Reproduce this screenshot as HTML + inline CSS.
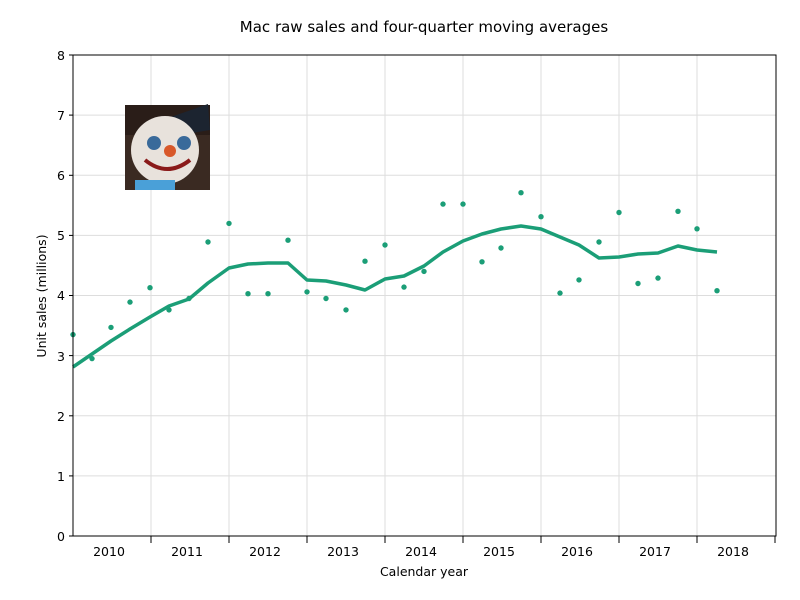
<!DOCTYPE html>
<html><head><meta charset="utf-8"><style>
html,body{margin:0;padding:0;background:#fff;}
svg{display:block;font-family:"DejaVu Sans","Liberation Sans",sans-serif;}
</style></head><body>
<svg width="800" height="600" viewBox="0 0 800 600" xmlns="http://www.w3.org/2000/svg">
<rect width="800" height="600" fill="#fff"/>
<text x="424" y="32" font-size="15" text-anchor="middle">Mac raw sales and four-quarter moving averages</text>
<g stroke="#dddddd" stroke-width="1">
<line x1="73" x2="776" y1="475.9" y2="475.9"/><line x1="73" x2="776" y1="415.8" y2="415.8"/>
<line x1="73" x2="776" y1="355.6" y2="355.6"/><line x1="73" x2="776" y1="295.5" y2="295.5"/>
<line x1="73" x2="776" y1="235.4" y2="235.4"/><line x1="73" x2="776" y1="175.3" y2="175.3"/>
<line x1="73" x2="776" y1="115.1" y2="115.1"/>
<line x1="151" x2="151" y1="55" y2="536"/><line x1="229" x2="229" y1="55" y2="536"/>
<line x1="307" x2="307" y1="55" y2="536"/><line x1="385" x2="385" y1="55" y2="536"/>
<line x1="463" x2="463" y1="55" y2="536"/><line x1="541" x2="541" y1="55" y2="536"/>
<line x1="619" x2="619" y1="55" y2="536"/><line x1="697" x2="697" y1="55" y2="536"/>
</g>
<g>
<rect x="125" y="105" width="85" height="85" fill="#3a2a22"/>
<rect x="125" y="105" width="85" height="30" fill="#2a1d18"/>
<polygon points="168,118 208,104 210,130 180,135" fill="#1c2430"/>
<circle cx="165" cy="150" r="34" fill="#e8e2dc"/>
<circle cx="154" cy="143" r="7" fill="#3a6a9a"/><circle cx="184" cy="143" r="7" fill="#3a6a9a"/>
<circle cx="170" cy="151" r="6" fill="#d8582a"/>
<path d="M145 160 Q167 178 190 160" stroke="#8a1a1a" stroke-width="4" fill="none"/>
<rect x="135" y="180" width="40" height="10" fill="#4aa0d8"/>
</g>
<polyline fill="none" stroke="#1b9e77" stroke-width="3.5" stroke-linejoin="round" points="73,367 92,354 111,341 130,329 150,317 169,306 189,299 208,283 229,268 248,264 268,263 288,263 307,280 326,281 346,285 365,290 385,279 404,276 424,266 443,252 463,241 482,234 501,229 521,226 541,229 560,237 579,245 599,258 619,257 638,254 658,253 678,246 697,250 717,252"/>
<g fill="#1b9e77">
<circle cx="73" cy="334.6" r="2.7"/><circle cx="92" cy="358.6" r="2.7"/><circle cx="111" cy="327.4" r="2.7"/>
<circle cx="130" cy="302.1" r="2.7"/><circle cx="150" cy="287.7" r="2.7"/><circle cx="169" cy="309.9" r="2.7"/>
<circle cx="189" cy="298.5" r="2.7"/><circle cx="208" cy="242" r="2.7"/><circle cx="229" cy="223.4" r="2.7"/>
<circle cx="248" cy="293.7" r="2.7"/><circle cx="268" cy="293.7" r="2.7"/><circle cx="288" cy="240.2" r="2.7"/>
<circle cx="307" cy="291.9" r="2.7"/><circle cx="326" cy="298.5" r="2.7"/><circle cx="346" cy="309.9" r="2.7"/>
<circle cx="365" cy="261.2" r="2.7"/><circle cx="385" cy="245" r="2.7"/><circle cx="404" cy="287.1" r="2.7"/>
<circle cx="424" cy="271.4" r="2.7"/><circle cx="443" cy="204.1" r="2.7"/><circle cx="463" cy="204.1" r="2.7"/>
<circle cx="482" cy="261.8" r="2.7"/><circle cx="501" cy="248" r="2.7"/><circle cx="521" cy="192.7" r="2.7"/>
<circle cx="541" cy="216.7" r="2.7"/><circle cx="560" cy="293.1" r="2.7"/><circle cx="579" cy="279.9" r="2.7"/>
<circle cx="599" cy="242" r="2.7"/><circle cx="619" cy="212.5" r="2.7"/><circle cx="638" cy="283.5" r="2.7"/>
<circle cx="658" cy="278.1" r="2.7"/><circle cx="678" cy="211.3" r="2.7"/><circle cx="697" cy="228.8" r="2.7"/>
<circle cx="717" cy="290.7" r="2.7"/>
</g>
<rect x="73" y="55" width="703" height="481" fill="none" stroke="#000" stroke-width="1"/>
<g stroke="#000" stroke-width="1">
<line x1="69" x2="73" y1="536" y2="536"/><line x1="69" x2="73" y1="475.9" y2="475.9"/>
<line x1="69" x2="73" y1="415.8" y2="415.8"/><line x1="69" x2="73" y1="355.6" y2="355.6"/>
<line x1="69" x2="73" y1="295.5" y2="295.5"/><line x1="69" x2="73" y1="235.4" y2="235.4"/>
<line x1="69" x2="73" y1="175.3" y2="175.3"/><line x1="69" x2="73" y1="115.1" y2="115.1"/>
<line x1="69" x2="73" y1="55" y2="55"/>
<line x1="151" x2="151" y1="536" y2="543"/><line x1="229" x2="229" y1="536" y2="543"/>
<line x1="307" x2="307" y1="536" y2="543"/><line x1="385" x2="385" y1="536" y2="543"/>
<line x1="463" x2="463" y1="536" y2="543"/><line x1="541" x2="541" y1="536" y2="543"/>
<line x1="619" x2="619" y1="536" y2="543"/><line x1="697" x2="697" y1="536" y2="543"/>
<line x1="775" x2="775" y1="536" y2="543"/>
</g>
<g font-size="12.5" text-anchor="end">
<text x="65" y="541">0</text><text x="65" y="481">1</text><text x="65" y="421">2</text>
<text x="65" y="361">3</text><text x="65" y="300">4</text><text x="65" y="240">5</text>
<text x="65" y="180">6</text><text x="65" y="120">7</text><text x="65" y="60">8</text>
</g>
<g font-size="12.5" text-anchor="middle">
<text x="109" y="556">2010</text><text x="187" y="556">2011</text><text x="265" y="556">2012</text>
<text x="343" y="556">2013</text><text x="421" y="556">2014</text><text x="499" y="556">2015</text>
<text x="577" y="556">2016</text><text x="655" y="556">2017</text><text x="733" y="556">2018</text>
<text x="424" y="576">Calendar year</text>
</g>
<text transform="translate(46 296) rotate(-90)" font-size="12.5" text-anchor="middle">Unit sales (millions)</text>
</svg>
</body></html>
